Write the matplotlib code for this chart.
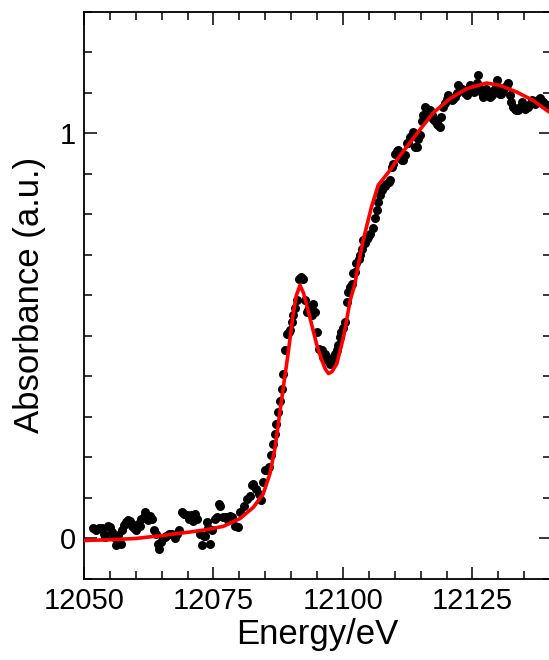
import matplotlib
matplotlib.use("Agg")
import matplotlib.pyplot as plt
from matplotlib.ticker import MultipleLocator, FixedLocator

plt.rcParams['font.family'] = ['Liberation Sans', 'DejaVu Sans']

# measured data (energy in eV, normalized absorbance)
energy = [
    12051.8, 12052.4, 12052.9, 12053.4, 12053.8, 12054.1, 12054.6, 12055.1, 12055.4, 12055.8,
    12056.1, 12056.5, 12057.1, 12057.4, 12057.8, 12058.1, 12058.5, 12058.8, 12059.2, 12059.6,
    12060.1, 12060.5, 12060.9, 12061.1, 12061.5, 12061.8, 12062.3, 12062.8, 12063.2, 12063.5,
    12063.9, 12064.2, 12064.5, 12064.9, 12065.2, 12065.6, 12065.9, 12066.4, 12066.9, 12067.3,
    12067.6, 12068.0, 12068.3, 12068.9, 12069.3, 12069.8, 12070.2, 12070.6, 12071.0, 12071.4,
    12071.8, 12072.3, 12072.7, 12073.1, 12073.4, 12073.7, 12074.0, 12074.3, 12074.7, 12075.3,
    12075.6, 12076.0, 12076.3, 12076.9, 12077.4, 12077.8, 12078.2, 12078.5, 12079.1, 12079.8,
    12080.1, 12080.8, 12081.4, 12082.0, 12082.4, 12082.7, 12083.3, 12083.7, 12084.1, 12084.5,
    12084.9, 12085.3, 12085.8, 12086.2, 12086.5, 12086.9, 12087.1, 12087.5, 12087.9, 12088.2,
    12088.5, 12088.8, 12089.1, 12089.5, 12089.8, 12090.1, 12090.4, 12090.8, 12091.1, 12091.6,
    12091.9, 12092.2, 12092.7, 12093.0, 12093.3, 12093.6, 12094.0, 12094.3, 12094.6, 12094.9,
    12095.4, 12095.9, 12096.2, 12096.6, 12096.9, 12097.2, 12097.5, 12097.8, 12098.2, 12098.5,
    12098.8, 12099.1, 12099.4, 12099.7, 12100.0, 12100.4, 12100.7, 12101.0, 12101.4, 12101.7,
    12102.0, 12102.3, 12102.6, 12103.0, 12103.3, 12103.6, 12103.9, 12104.3, 12104.6, 12104.9,
    12105.3, 12105.8, 12106.1, 12106.5, 12106.8, 12107.1, 12107.5, 12107.8, 12108.1, 12108.4,
    12108.8, 12109.1, 12109.4, 12109.7, 12110.0, 12110.4, 12110.7, 12111.0, 12111.3, 12111.6,
    12112.0, 12112.3, 12112.6, 12113.0, 12113.3, 12113.6, 12113.9, 12114.2, 12114.5, 12114.9,
    12115.2, 12115.5, 12115.8, 12116.2, 12116.5, 12116.8, 12117.1, 12117.4, 12117.8, 12118.1,
    12118.4, 12118.7, 12119.0, 12119.4, 12119.7, 12120.0, 12120.3, 12120.7, 12121.0, 12121.3,
    12121.6, 12122.0, 12122.3, 12122.6, 12122.9, 12123.2, 12123.6, 12123.9, 12124.2, 12124.5,
    12124.8, 12125.2, 12125.5, 12125.8, 12126.1, 12126.4, 12126.8, 12127.1, 12127.4, 12127.7,
    12128.1, 12128.4, 12128.7, 12129.0, 12129.3, 12129.7, 12130.0, 12130.3, 12130.6, 12130.9,
    12131.3, 12131.6, 12131.9, 12132.2, 12132.5, 12132.9, 12133.2, 12133.5, 12133.8, 12134.1,
    12134.5, 12134.8, 12135.1, 12135.4, 12135.8, 12136.1, 12136.4, 12136.7, 12137.1, 12137.4,
    12137.7, 12138.0, 12138.4, 12138.7, 12139.0, 12139.3,
]
absorbance = [
    0.025, 0.021, 0.027, 0.026, 0.012, 0.003, 0.030, 0.028, 0.016, 0.004,
    -0.017, 0.008, -0.013, 0.020, 0.033, 0.040, 0.045, 0.044, 0.032, 0.025,
    0.020, 0.035, 0.030, 0.049, 0.053, 0.065, 0.045, 0.055, 0.049, 0.020,
    0.010, -0.013, -0.025, -0.008, 0.000, 0.004, 0.007, 0.010, 0.012, 0.008,
    0.000, 0.010, 0.021, 0.065, 0.060, 0.058, 0.048, 0.057, 0.044, 0.061,
    0.048, 0.012, -0.017, 0.005, 0.007, 0.040, 0.025, -0.013, 0.020, 0.049,
    0.053, 0.086, 0.081, 0.053, 0.053, 0.045, 0.055, 0.053, 0.032, 0.028,
    0.065, 0.081, 0.098, 0.106, 0.131, 0.135, 0.123, 0.110, 0.094, 0.139,
    0.168, 0.170, 0.176, 0.205, 0.234, 0.259, 0.283, 0.312, 0.340, 0.368,
    0.407, 0.464, 0.505, 0.510, 0.514, 0.534, 0.551, 0.570, 0.588, 0.641,
    0.645, 0.641, 0.588, 0.559, 0.565, 0.571, 0.551, 0.579, 0.559, 0.509,
    0.468, 0.464, 0.448, 0.455, 0.440, 0.440, 0.430, 0.444, 0.450, 0.455,
    0.464, 0.477, 0.497, 0.509, 0.520, 0.534, 0.583, 0.608, 0.621, 0.629,
    0.654, 0.658, 0.680, 0.690, 0.699, 0.715, 0.736, 0.730, 0.740, 0.744,
    0.752, 0.765, 0.790, 0.810, 0.830, 0.847, 0.860, 0.867, 0.870, 0.875,
    0.880, 0.884, 0.917, 0.925, 0.950, 0.955, 0.958, 0.940, 0.935, 0.933,
    0.946, 0.975, 0.975, 0.990, 0.995, 1.003, 0.966, 0.966, 0.987, 0.995,
    1.030, 1.044, 1.065, 1.060, 1.050, 1.057, 1.045, 1.036, 1.030, 1.024,
    1.020, 1.016, 1.040, 1.065, 1.075, 1.085, 1.094, 1.088, 1.081, 1.085,
    1.090, 1.100, 1.119, 1.112, 1.108, 1.106, 1.100, 1.094, 1.110, 1.119,
    1.110, 1.102, 1.115, 1.125, 1.143, 1.110, 1.100, 1.090, 1.100, 1.110,
    1.100, 1.090, 1.095, 1.105, 1.110, 1.131, 1.115, 1.098, 1.098, 1.105,
    1.115, 1.120, 1.123, 1.095, 1.077, 1.065, 1.061, 1.058, 1.057, 1.065,
    1.077, 1.070, 1.061, 1.062, 1.065, 1.072, 1.081, 1.076, 1.073, 1.078,
    1.082, 1.086, 1.080, 1.077, 1.072, 1.069,
]

# fitted / calculated spectrum (red line)
fit_energy = [
    12050.0, 12055.0, 12060.0, 12062.0, 12065.0, 12068.5, 12070.5, 12073.7, 12076.9, 12080.1,
    12082.7, 12084.6, 12085.9, 12086.9, 12087.8, 12088.5, 12089.4, 12090.4, 12091.0, 12091.7,
    12092.4, 12093.6, 12094.9, 12095.9, 12096.6, 12097.2, 12097.9, 12098.8, 12100.1, 12101.4,
    12102.3, 12103.0, 12103.9, 12105.5, 12106.8, 12109.1, 12111.0, 12112.3, 12114.5, 12117.4,
    12120.7, 12123.9, 12127.7, 12130.3, 12133.5, 12136.7, 12139.3, 12140.5,
]
fit_absorbance = [
    -0.005, -0.003, 0.000, 0.003, 0.007, 0.013, 0.016, 0.022, 0.030, 0.049,
    0.077, 0.110, 0.160, 0.225, 0.310, 0.375, 0.456, 0.555, 0.600, 0.625,
    0.605, 0.546, 0.480, 0.440, 0.418, 0.407, 0.412, 0.431, 0.497, 0.588,
    0.628, 0.678, 0.736, 0.818, 0.872, 0.909, 0.945, 0.966, 1.003, 1.050,
    1.086, 1.110, 1.124, 1.118, 1.102, 1.081, 1.057, 1.047,
]

x_major_ticks = [12050, 12075, 12100, 12125]
y_major_ticks = [0, 1]

fig = plt.figure(figsize=(5.49, 6.60), dpi=100)
ax = fig.add_axes([0.153, 0.1227, 0.851, 0.8596])

ax.scatter(energy, absorbance, s=42, color='black', zorder=2, linewidths=0)
ax.plot(fit_energy, fit_absorbance, color='#ff0000', lw=2.6, zorder=3,
        solid_joinstyle='round', solid_capstyle='round')

ax.set_xlim(12050, 12140.2)
ax.set_ylim(-0.1, 1.3)

ax.xaxis.set_major_locator(FixedLocator(x_major_ticks))
ax.xaxis.set_minor_locator(MultipleLocator(5))
ax.yaxis.set_major_locator(FixedLocator(y_major_ticks))
ax.yaxis.set_minor_locator(MultipleLocator(0.1))

ax.tick_params(which='both', direction='in', top=True, right=True, width=1.1,
               color='black')
ax.tick_params(which='major', length=9, labelsize=21, pad=6)
ax.tick_params(which='minor', length=5.5)

for s in ax.spines.values():
    s.set_linewidth(1.3)

ax.set_xlabel('Energy/eV', fontsize=25, labelpad=2)
ax.set_ylabel('Absorbance (a.u.)', fontsize=25, labelpad=10)

fig.savefig('out.png', dpi=100)
